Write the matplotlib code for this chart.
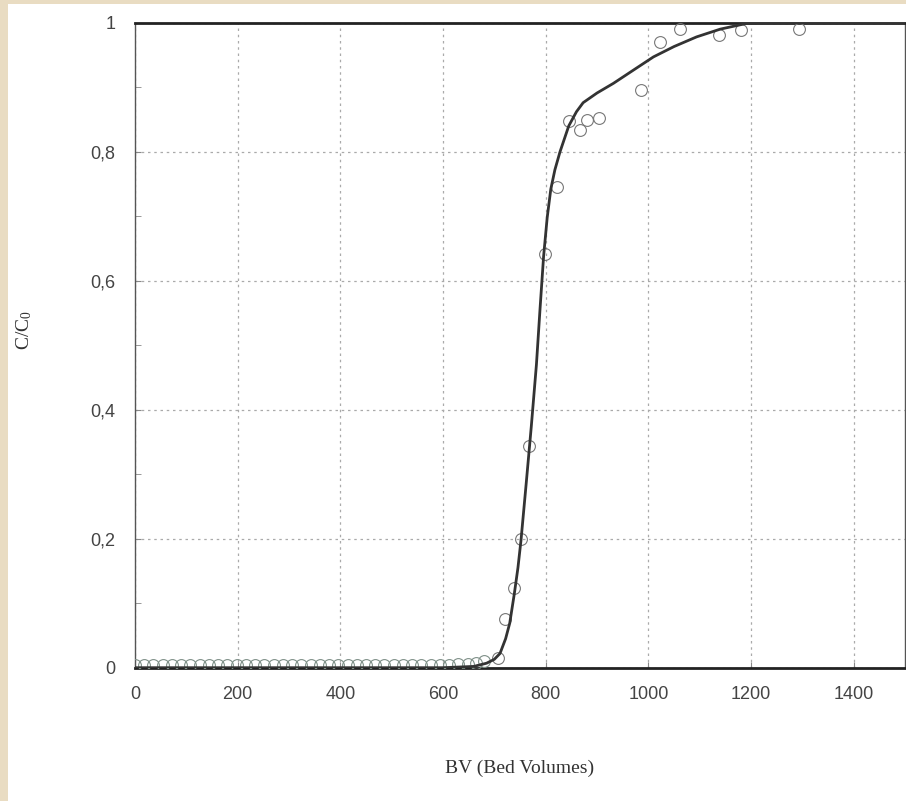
import matplotlib
matplotlib.use("Agg")
import matplotlib.pyplot as plt
from matplotlib.patches import Rectangle
from matplotlib.ticker import FuncFormatter, MultipleLocator

plt.rcParams["mathtext.fontset"] = "custom"
plt.rcParams["mathtext.rm"] = "Liberation Serif"
plt.rcParams["mathtext.it"] = "Liberation Serif"

# ---------------------------------------------------------------------------
# Data
# ---------------------------------------------------------------------------

# measured points (C/C0 vs bed volumes) before breakthrough
bv_low = [0, 18, 36, 54, 72, 90, 108, 126, 144, 162, 180, 198, 216, 234,
          252, 270, 288, 306, 324, 342, 360, 378, 396, 414, 432, 450, 468,
          486, 504, 522, 540, 558, 576, 594, 612, 630, 648, 664, 680]
cc0_low = [0.004, 0.004, 0.004, 0.004, 0.004, 0.004, 0.004, 0.004, 0.004,
           0.004, 0.004, 0.004, 0.004, 0.004, 0.004, 0.004, 0.004, 0.004,
           0.004, 0.004, 0.004, 0.004, 0.004, 0.004, 0.004, 0.004, 0.004,
           0.004, 0.004, 0.004, 0.004, 0.004, 0.004, 0.004, 0.004, 0.005,
           0.005, 0.007, 0.010]

# measured points through and after breakthrough
bv_pts = [708, 721, 739, 751, 768, 799, 823, 845, 866, 881, 903, 986,
          1023, 1062, 1138, 1180, 1294]
cc0_pts = [0.015, 0.076, 0.123, 0.199, 0.343, 0.641, 0.746, 0.848, 0.834,
           0.849, 0.852, 0.896, 0.970, 0.991, 0.981, 0.989, 0.990]

# fitted model curve
bv_fit = [0, 600, 660, 685, 700, 711, 722, 730, 739, 746, 752, 762, 772,
          782, 789, 796, 803, 810, 818, 828, 845, 860, 873, 900, 932, 970,
          1010, 1050, 1094, 1140, 1192, 1230, 1500]
cc0_fit = [0.0, 0.0, 0.002, 0.007, 0.013, 0.022, 0.045, 0.069, 0.115,
           0.155, 0.198, 0.285, 0.374, 0.470, 0.556, 0.638, 0.698, 0.742,
           0.772, 0.800, 0.840, 0.862, 0.876, 0.891, 0.906, 0.926, 0.947,
           0.963, 0.978, 0.990, 0.999, 1.0, 1.0]

x_ticks = [0, 200, 400, 600, 800, 1000, 1200, 1400]
y_ticks = [0, 0.2, 0.4, 0.6, 0.8, 1.0]


def comma_fmt(v, _pos):
    if abs(v) < 1e-9:
        return "0"
    if abs(v - 1) < 1e-9:
        return "1"
    return "{:.1f}".format(v).replace(".", ",")


fig = plt.figure(figsize=(9.06, 8.01), dpi=100)
fig.patch.set_facecolor("white")

# scanned page edge
beige = "#e9dcc2"
fig.patches.append(Rectangle((0, 0), 8 / 906, 1, transform=fig.transFigure,
                             facecolor=beige, edgecolor="none", zorder=0))
fig.patches.append(Rectangle((0, 1 - 4 / 801), 1, 4 / 801,
                             transform=fig.transFigure, facecolor=beige,
                             edgecolor="none", zorder=0))

ax = fig.add_axes([135 / 906, 133.3 / 801, 770 / 906, 645 / 801])

ax.plot(bv_low, cc0_low, "o", markersize=8.5, markerfacecolor="none",
        markeredgecolor="#7f9088", markeredgewidth=0.8, zorder=3)
ax.plot(bv_pts, cc0_pts, "o", markersize=8.5, markerfacecolor="none",
        markeredgecolor="#777777", markeredgewidth=0.8, zorder=3)
ax.plot(bv_fit, cc0_fit, "-", color="#333333", linewidth=2.0, zorder=4)

ax.set_xlim(0, 1500)
ax.set_ylim(0, 1)
ax.set_xticks(x_ticks)
ax.set_yticks(y_ticks)
ax.yaxis.set_minor_locator(MultipleLocator(0.1))
ax.yaxis.set_major_formatter(FuncFormatter(comma_fmt))

ax.grid(True, which="major", linestyle=(0, (2, 3)), color="#aaaaaa",
        linewidth=0.9)
ax.set_axisbelow(True)

ax.tick_params(axis="both", which="both", direction="in", length=4,
               color="#888888", labelsize=13, labelcolor="#444444")
ax.tick_params(axis="x", pad=13)
ax.tick_params(axis="y", pad=14)
for lbl in ax.get_xticklabels() + ax.get_yticklabels():
    lbl.set_family("Liberation Sans")

ax.spines["top"].set_linewidth(2.0)
ax.spines["top"].set_color("#222222")
ax.spines["bottom"].set_linewidth(2.0)
ax.spines["bottom"].set_color("#222222")
ax.spines["left"].set_linewidth(1.0)
ax.spines["left"].set_color("#555555")
ax.spines["right"].set_linewidth(1.0)
ax.spines["right"].set_color("#555555")

fig.text(520 / 906, 1 - 768 / 801, "BV (Bed Volumes)", ha="center",
         va="center", fontsize=14, family="Liberation Serif", color="#333333")
fig.text(24 / 906, 1 - 330 / 801, r"C/C$_0$", ha="center", va="center",
         rotation=90, fontsize=14, family="Liberation Serif", color="#333333")

fig.savefig("out.png", dpi=100)
